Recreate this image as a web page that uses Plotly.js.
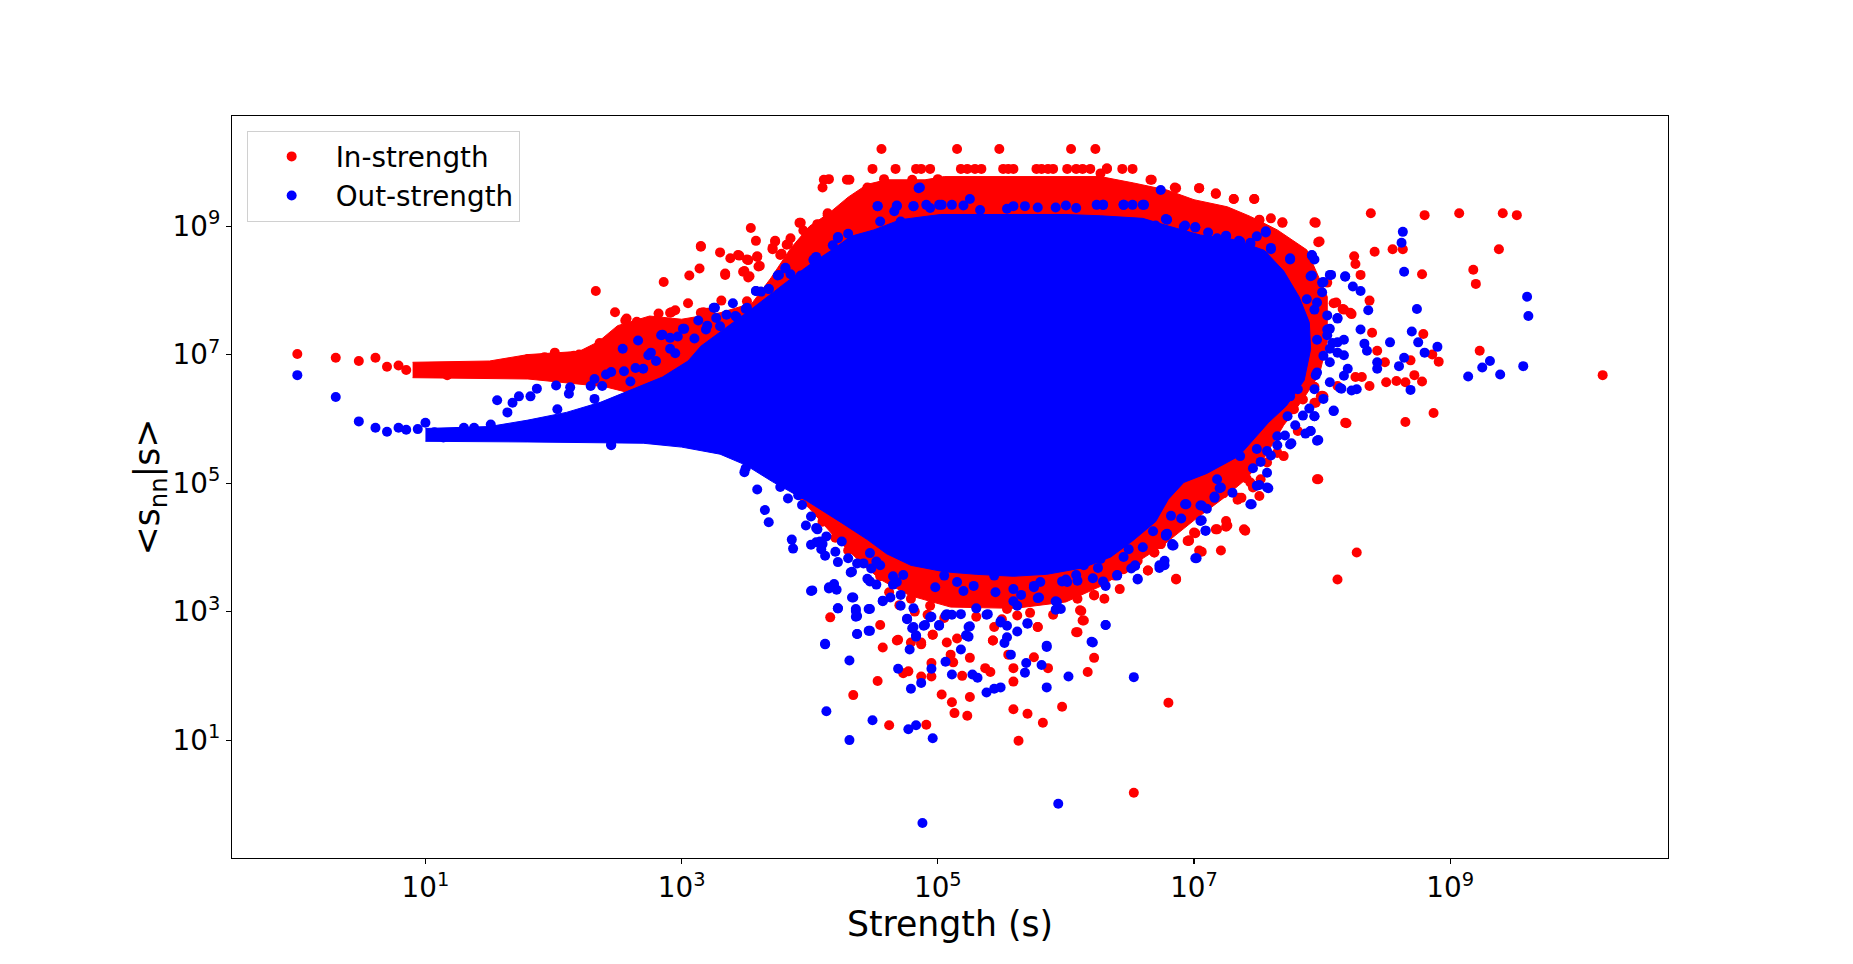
<!DOCTYPE html>
<html>
<head>
<meta charset="utf-8">
<script src="https://cdn.plot.ly/plotly-3.0.1.min.js"></script>
<style>html,body{margin:0;padding:0;background:#fff;}#chart{width:1853px;height:964px;}</style>
</head>
<body>
<div id="chart"></div>
<script>
// All values are log10 of the plotted quantity (strength s, <s_nn|s>).
const seriesNames = ["In-strength", "Out-strength"];

// Dense core of the In-strength cloud (outline of the solid red area), log10 values
const inCoreLogS   = [0.90,1.50,1.80,2.20,2.35,2.50,2.75,3.00,3.30,3.55,3.70,3.85,4.00,4.15,4.30,4.45,4.60,4.90,5.05,6.27,6.53,6.79,7.00,7.26,7.44,7.65,7.88,8.04,8.04,7.98,7.85,7.70,7.55,7.40,7.22,7.00,6.75,6.50,6.30,6.00,5.60,5.10,4.78,4.55,4.38,4.20,4.00,3.60,3.00,2.40,1.80,0.90];
const inCoreLogSnn = [6.88,6.90,7.00,7.05,7.20,7.45,7.60,7.55,7.65,7.80,8.20,8.65,9.00,9.20,9.45,9.65,9.72,9.72,9.77,9.77,9.67,9.56,9.41,9.30,9.15,8.94,8.63,7.90,7.20,6.70,6.30,5.90,5.40,5.05,4.75,4.42,4.02,3.70,3.42,3.15,3.05,3.07,3.25,3.50,3.80,4.15,4.60,5.35,6.20,6.50,6.62,6.64];

// Dense core of the Out-strength cloud (outline of the solid blue area), log10 values
const outCoreLogS   = [1.00,1.50,1.80,2.10,2.37,2.60,2.85,3.05,3.15,3.30,3.54,3.80,4.00,4.19,4.32,4.50,4.71,5.02,6.00,6.27,6.60,6.80,7.05,7.31,7.55,7.70,7.82,7.90,7.91,7.86,7.72,7.58,7.35,7.10,6.92,6.80,6.70,6.52,6.35,6.13,5.85,5.59,5.30,5.05,4.79,4.60,4.45,4.25,3.98,3.71,3.50,3.30,3.00,2.70,2.37,1.80,1.00];
const outCoreLogSnn = [5.85,5.88,5.98,6.10,6.26,6.45,6.65,6.90,7.13,7.35,7.70,8.10,8.40,8.65,8.84,8.94,9.10,9.18,9.18,9.16,9.12,9.00,8.86,8.79,8.62,8.30,7.90,7.50,7.08,6.60,6.20,5.94,5.42,5.15,5.01,4.75,4.40,4.10,3.85,3.68,3.58,3.55,3.58,3.62,3.72,3.90,4.12,4.38,4.72,5.02,5.28,5.45,5.56,5.62,5.63,5.64,5.65];

// Individually visible In-strength nodes (log10 s, log10 <s_nn|s>)
const inLogS = [
0.00,0.30,0.48,0.61,0.70,0.79,0.85,1.17,1.80,1.93,2.01,2.16,2.20,2.34,2.36,2.33,2.48,2.56,2.65,2.50,2.58,2.71,2.86,2.82,2.91,2.95,3.05,3.06,
2.57,2.66,2.74,2.92,3.14,3.15,3.17,3.23,3.30,3.31,3.34,3.38,3.44,3.48,3.52,3.52,3.54,3.58,3.59,3.61,3.71,3.73,3.78,3.83,3.86,3.92,3.92,3.95,3.96,3.98,4.06,4.10,4.14,4.15,4.28,4.31,4.36,4.44,4.45,4.49,4.53,4.56,4.57,4.58,4.67,4.68,4.79,4.80,4.83,4.87,4.94,5.00,5.15,5.18,5.23,5.29,5.34,5.48,5.51,5.55,5.59,5.77,5.81,5.86,5.90,6.01,6.04,6.08,6.13,6.19,6.23,6.32,6.44,6.52,
6.67,6.85,7.04,7.17,7.31,7.47,7.51,7.69,7.95,7.97,8.38,8.80,9.07,9.41,9.52,9.38,9.18,9.20,8.41,8.55,8.63,8.25,8.26,8.30,8.78,8.37,8.23,8.11,8.16,8.79,8.39,8.43,8.49,9.23,8.86,8.91,8.72,8.78,8.58,8.65,8.37,8.50,10.19,8.87,8.65,8.19,7.95,8.00,7.94,8.31,8.26,8.69,
7.97,8.27,8.12,6.80,6.53,6.86,7.21,7.06,6.69,6.64,6.45,6.51,6.74,6.96,7.01,7.17,7.25,7.40,7.25,6.93,7.37,7.34,7.23,7.51,7.46,7.41,
4.16,4.55,4.57,4.53,4.34,4.62,4.91,4.69,4.77,4.73,4.87,4.95,4.95,4.96,4.87,5.03,5.11,5.13,5.23,5.25,5.19,5.25,5.12,5.10,5.41,5.37,5.43,5.55,5.59,5.59,5.59,5.70,5.82,5.63,5.97,5.75,5.86,5.78,6.09,6.12,6.14,6.22,6.17,6.01,6.22,4.20,4.30,4.45,4.55,4.62,4.70,
4.92,5.05,5.30,5.50,5.72,5.90,6.30,6.42,4.82,4.10];
const inLogSnn = [
7.01,6.95,6.90,6.95,6.81,6.83,6.76,6.68,6.93,6.96,7.03,6.98,7.00,7.08,7.18,7.99,7.66,7.53,7.51,7.29,7.26,7.39,8.13,7.64,7.65,7.69,7.80,8.23,
7.56,7.48,7.40,7.66,8.34,8.69,7.66,7.61,8.59,7.84,8.26,8.50,8.55,8.29,8.47,8.20,8.97,8.77,8.53,8.38,8.64,8.77,8.57,8.72,8.51,8.55,9.05,8.93,8.45,8.77,9.03,9.60,9.17,9.73,9.17,9.72,9.43,9.47,9.60,9.89,9.29,10.20,9.60,9.73,9.89,9.60,9.60,9.72,9.89,9.89,9.89,9.73,10.20,9.89,9.89,9.89,9.89,10.20,9.89,9.89,9.89,9.89,9.89,9.89,9.89,9.89,10.20,9.89,9.89,9.89,10.20,9.89,9.89,9.89,
9.72,9.60,9.59,9.50,9.42,9.42,9.09,9.05,9.05,8.75,9.20,9.17,9.20,9.20,9.17,8.64,8.32,8.10,8.60,8.64,8.64,8.53,8.41,8.24,8.25,7.84,7.63,7.81,7.71,7.32,7.34,7.06,6.88,7.06,7.00,6.89,6.68,6.58,6.59,6.57,6.51,6.57,6.68,6.09,5.95,5.93,6.25,6.36,6.50,6.65,6.65,6.91,
5.06,3.92,3.50,1.58,0.18,3.50,3.95,3.93,3.92,3.64,3.66,3.83,4.05,4.11,4.22,4.28,4.32,4.26,4.41,4.45,4.77,4.74,4.84,4.80,4.93,5.07,
2.91,2.79,2.44,1.92,1.70,1.23,1.24,2.56,2.07,2.04,1.99,1.99,2.20,2.64,2.49,1.71,1.59,1.42,1.38,1.67,2.00,2.28,2.21,2.33,2.06,2.12,2.55,2.33,2.12,1.91,1.48,1.41,1.27,0.99,1.52,2.29,2.12,2.76,2.68,3.01,2.86,2.28,2.06,3.31,3.26,4.15,3.95,3.75,3.55,3.30,3.10,
2.95,2.90,2.92,2.88,2.98,2.95,3.20,3.35,3.00,4.40];

// More In-strength nodes along the edge of the cloud, as [log10 s, log10 <s_nn|s>]
const inEdgeNodes = [
[4.68,2.55],[4.79,2.52],[4.87,2.52],[4.96,2.64],[5.07,2.52],[5.15,2.58],[5.44,2.76],[5.43,2.55],[5.78,2.76],[5.80,3.20],
[6.09,3.20],[6.08,2.68],[6.13,2.86],[6.11,3.02],[6.22,3.25],[6.01,3.30],[6.38,3.56],[6.44,3.66],[6.64,3.64],[6.56,3.79],
[6.69,3.92],[6.74,4.05],[6.86,3.51],[6.96,4.10],[6.95,4.44],[7.04,3.95],[4.45,4.18],[4.35,4.08],[4.58,4.08],[4.71,3.61],
[4.79,3.20],[4.97,3.25],[5.10,3.46],[5.49,3.25],[5.54,3.04],[5.62,2.94],[4.94,3.09],
[8.18,5.94],[7.96,5.06],[7.94,6.25],[7.99,6.35],[7.85,6.30],[7.78,6.15],[7.81,5.81],[7.65,5.47],[7.70,5.42],[7.57,5.32],
[7.52,5.06],[7.44,5.01],[7.39,5.22],[7.35,4.77],[7.39,4.28],[7.26,4.34],[7.18,4.28],[7.00,4.23],[6.95,4.10],[6.92,4.39],
[7.13,4.91],[8.09,7.80],[8.17,7.70],[8.22,7.65],[8.12,6.51],[8.01,6.35],[8.04,8.12],
[3.15,8.68],[3.45,8.54],[3.51,8.48],[3.59,8.52],[3.60,8.37],[3.49,8.30],[3.53,8.22],[3.34,8.24],[3.73,8.76],[3.71,8.66],
[3.82,8.71],[3.85,8.81],[3.77,8.55],[3.85,8.48],[3.92,8.53],[3.93,9.05],[3.98,8.76],[4.06,9.02],[4.14,9.20],[4.16,8.89],
[4.14,8.76],[4.11,9.72],[4.29,9.72],[4.36,9.43],[4.55,9.62],[3.15,7.65],[3.20,7.65],[3.51,7.83],[3.95,8.32],[3.85,8.35],
[6.27,9.82],[6.32,9.90],[6.66,9.72],[6.86,9.59],[7.04,9.59],[7.17,9.51],[7.31,9.42],[7.47,9.42],[7.51,9.10],[7.60,9.12],
[7.69,9.06],[7.94,9.06],[7.98,8.76]];

// Individually visible Out-strength nodes (log10 s, log10 <s_nn|s>)
const outLogS = [
0.00,0.30,0.48,0.61,0.70,0.79,0.85,0.94,1.00,1.07,1.14,1.25,1.30,1.38,1.51,1.56,1.64,1.68,1.73,1.82,1.87,2.02,2.03,2.12,2.13,2.29,2.32,2.32,2.38,2.41,2.45,2.54,2.55,2.64,2.66,2.76,2.84,2.91,2.97,3.02,2.82,
2.45,2.74,2.85,2.91,3.01,3.13,3.26,3.43,3.50,3.58,3.68,3.75,3.81,3.93,3.98,4.03,4.14,4.22,4.36,4.53,4.68,4.81,4.86,4.91,5.03,5.11,5.20,5.25,5.33,5.54,5.59,5.68,5.78,5.92,6.00,6.08,6.24,6.29,6.45,6.52,2.81,3.08,3.50,3.55,2.45,
6.60,6.74,8.63,8.62,8.64,9.60,9.61,8.74,8.70,8.75,8.80,8.90,8.53,8.64,8.60,9.14,9.25,9.31,9.39,9.57,8.69,8.30,8.18,8.06,8.24,8.30,8.36,8.33,8.35,8.43,8.43,8.23,8.27,8.15,8.09,7.94,7.97,7.76,7.91,7.87,8.12,7.92,7.75,7.60,
6.53,6.56,6.73,6.77,7.02,6.84,7.09,7.06,6.78,6.54,6.49,6.94,7.06,7.45,7.16,7.20,7.58,7.51,
3.65,3.68,3.86,3.87,4.01,4.12,4.13,4.31,4.31,4.49,4.77,4.83,4.96,4.88,4.15,4.21,4.22,4.37,4.47,4.36,4.36,4.33,4.47,4.69,4.78,4.79,4.87,4.95,5.06,5.11,5.18,5.24,5.27,5.31,5.38,5.44,5.49,5.52,5.54,5.57,5.69,5.68,5.81,5.85,5.85,6.02,6.20,6.31,5.94,5.62,5.92,5.70,5.25,4.80,4.83,5.01,5.06,4.95,4.76,
4.81,4.90,5.11,5.30,5.38,5.49,5.59,5.65,5.78,5.92,5.97,6.08,6.21,6.29,6.40,6.51,
3.77,3.83,3.91,3.94,4.01,4.05,4.08,4.13,4.20,4.25,4.30,4.33,4.37,4.47,4.48,4.52,4.47,4.52,4.57,4.65,4.71,4.73,3.49,3.59,4.01,
8.01,7.92,8.00,7.96,8.04,8.06,8.04,8.12,8.06,8.17,8.20,8.06,7.95,8.06,8.01,7.90,7.85,7.79,7.71,7.65,7.60,7.52,7.46,
7.25,7.35,7.44,7.56,6.78,6.93,7.01,7.11,6.70,
2.60,2.70,2.80,2.95,3.10,3.20,3.35,3.40,3.62,3.85,4.05,4.18,4.30,
6.60,6.68,6.90,7.10,7.30,6.45,6.25,6.00,5.75,5.45,5.20,4.98,4.65,4.42,4.10];
const outLogSnn = [
6.68,6.34,5.96,5.86,5.80,5.86,5.83,5.84,5.94,5.79,5.71,5.79,5.86,5.86,5.91,6.29,6.10,6.25,6.35,6.35,6.47,6.52,6.15,6.39,6.49,6.51,6.31,6.62,6.51,6.69,5.59,7.09,6.74,6.79,7.22,7.03,7.30,7.26,7.28,7.40,5.67,
6.73,6.99,7.31,7.09,7.40,7.53,7.73,7.58,7.71,7.99,8.02,8.23,8.34,8.23,8.28,8.47,8.44,8.83,8.77,9.31,9.32,9.31,9.60,9.33,9.33,9.33,9.32,9.42,9.25,9.27,9.31,9.31,9.29,9.29,9.32,9.28,9.33,9.33,9.33,9.33,5.67,5.61,5.23,5.43,5.60,
9.33,9.56,8.91,8.74,8.29,7.90,7.60,7.71,7.36,7.19,7.03,7.12,7.19,6.95,6.82,6.66,6.80,6.90,6.69,6.82,6.45,7.39,8.21,8.24,8.06,7.99,7.69,7.17,7.06,6.88,6.78,6.44,6.46,6.47,6.13,6.04,5.67,5.62,5.81,5.77,7.56,8.54,8.48,8.64,
1.98,3.50,3.68,3.79,3.83,4.03,4.26,4.42,4.20,3.71,3.97,4.67,4.65,4.67,4.79,4.92,4.92,4.97,
4.58,4.39,4.12,3.98,3.32,2.49,1.45,1.00,2.24,1.31,1.17,1.23,1.03,-0.29,3.36,3.34,3.05,2.65,2.70,3.01,2.92,3.22,3.04,2.11,2.41,1.80,1.89,2.11,2.22,2.02,2.41,2.61,2.02,1.97,1.74,1.80,1.82,2.51,2.60,2.33,2.20,2.05,2.17,1.82,2.45,1.99,2.53,2.79,0.01,2.69,3.03,2.82,2.77,2.74,2.61,2.79,2.94,2.92,2.88,
3.05,2.79,2.95,3.05,2.95,2.85,3.16,3.26,3.21,3.16,3.47,3.57,3.52,3.47,3.57,3.67,
4.94,4.76,4.81,4.66,4.48,4.30,4.09,4.17,3.93,4.09,3.83,3.62,3.75,3.91,3.67,3.78,3.47,3.42,3.16,3.42,3.26,3.57,5.17,4.90,4.04,
8.13,8.23,7.97,7.81,7.61,7.40,7.30,7.19,7.09,6.99,6.78,6.88,6.68,6.57,6.31,6.16,6.05,5.90,5.74,5.59,5.43,5.33,5.23,
8.85,8.77,8.72,8.90,9.11,9.01,8.98,8.90,9.01,
6.58,6.78,6.90,7.02,7.25,7.45,7.62,7.80,7.98,8.25,8.52,8.70,8.88,
4.00,4.25,4.45,4.60,4.85,3.85,3.68,3.50,3.38,3.30,3.32,3.38,3.55,3.75,4.05];

// More Out-strength nodes along the edge of the cloud, as [log10 s, log10 <s_nn|s>]
const outEdgeNodes = [
[4.02,3.33],[4.15,3.38],[4.19,3.43],[4.22,3.05],[4.34,3.22],[4.36,3.04],[4.37,2.93],[4.46,3.04],[4.37,2.65],[4.46,2.70],
[4.12,2.50],[4.57,3.17],[4.63,3.22],[4.71,3.09],[4.76,2.89],[4.81,2.76],[4.83,2.63],[4.89,2.78],[4.94,2.91],[5.01,2.78],
[5.07,2.96],[5.18,2.96],[5.24,2.76],[5.22,2.63],[5.39,2.96],[5.49,2.83],[5.54,2.78],[5.62,3.09],[5.70,2.81],[5.79,3.22],
[5.85,2.47],[5.93,3.15],[5.96,3.04],[6.09,3.48],[6.21,2.52],[6.31,2.79],[6.31,3.40],[6.40,3.56],[6.56,3.51],[6.54,3.72],
[6.77,3.72],[6.73,3.72],[7.01,3.83],[6.83,4.03],[6.79,4.21],[6.93,4.67],[4.09,3.97],[4.12,3.87],[4.22,3.77],[4.32,3.61],
[4.45,3.51],[4.55,3.72],[4.68,3.46],[5.05,3.56],[5.15,3.46],[5.28,3.40],[5.44,3.56],[5.59,3.35],[5.75,3.40],[5.80,3.46],
[6.01,3.46],[6.14,3.72],[6.27,3.82],[4.05,4.08],[3.97,4.34],[4.06,4.28],
[7.94,8.48],[7.91,8.22],[8.07,8.24],[8.18,8.22],[8.00,8.12],[7.88,7.86],[7.94,7.70],[8.12,7.57],[8.04,7.39],[7.96,7.23],
[8.08,7.18],[8.17,7.23],[8.12,7.03],[8.01,6.98],[7.96,6.72],[8.17,6.67],[8.14,6.48],[7.94,6.46],[7.81,6.46],[7.75,6.35],
[7.73,6.04],[7.94,6.04],[8.09,6.12],[7.91,5.81],[7.96,5.66],[7.75,5.60],[7.65,5.73],[7.57,5.50],[7.57,5.16],[7.57,4.93],
[7.49,4.96],[7.44,4.67],[7.21,4.93],[7.16,4.77],[7.05,4.65],[7.05,4.41],[7.09,4.26],[6.82,4.49],[6.78,4.18],[6.83,4.05],
[6.84,5.06],[7.18,5.06],[7.36,5.42],[7.49,5.53],
[3.25,7.73],[3.27,7.57],[3.42,7.60],[3.51,7.73],[3.58,7.99],[3.68,8.02],[3.76,8.24],[3.81,8.35],[3.93,8.22],[4.03,8.48],
[4.15,8.43],[4.22,8.81],[4.37,8.74],[4.53,9.31],[4.68,9.31],[4.66,9.23],[4.55,9.07],[4.71,9.07],[4.81,9.31],[4.85,9.59],
[4.94,9.28],[5.01,9.33],[3.30,7.44],[3.19,7.39],[3.41,7.26],[3.49,7.05],
[6.29,9.33],[6.45,9.33],[6.61,9.33],[6.79,9.10],[6.92,8.99],[7.01,8.98],[7.18,8.81],[7.25,8.84],[7.36,8.76],[7.44,8.74],
[7.49,8.84],[7.56,8.92],[7.60,8.66],[7.75,8.50],[7.92,8.55]];

// Axis tick values and labels
const xTickExponents = [1, 3, 5, 7, 9];
const yTickExponents = [1, 3, 5, 7, 9];

const pow10 = a => a.map(v => Math.pow(10, v));
const inAllS   = inLogS.concat(inEdgeNodes.map(p => p[0]));
const inAllSnn = inLogSnn.concat(inEdgeNodes.map(p => p[1]));
const outAllS   = outLogS.concat(outEdgeNodes.map(p => p[0]));
const outAllSnn = outLogSnn.concat(outEdgeNodes.map(p => p[1]));

const RED = '#ff0000', BLUE = '#0000ff';
const MS = 10;

const traces = [
  {x: pow10(inCoreLogS), y: pow10(inCoreLogSnn), type: 'scatter', mode: 'lines', fill: 'toself',
   fillcolor: RED, line: {color: RED, width: 1}, showlegend: false, hoverinfo: 'skip'},
  {x: pow10(inAllS), y: pow10(inAllSnn), type: 'scatter', mode: 'markers', name: seriesNames[0],
   marker: {color: RED, size: MS, line: {width: 0}}},
  {x: pow10(outCoreLogS), y: pow10(outCoreLogSnn), type: 'scatter', mode: 'lines', fill: 'toself',
   fillcolor: BLUE, line: {color: BLUE, width: 1}, showlegend: false, hoverinfo: 'skip'},
  {x: pow10(outAllS), y: pow10(outAllSnn), type: 'scatter', mode: 'markers', name: seriesNames[1],
   marker: {color: BLUE, size: MS, line: {width: 0}}}
];

const FONT = 'DejaVu Sans, sans-serif';
const layout = {
  width: 1853, height: 964,
  margin: {l: 232, r: 185, t: 116, b: 106, pad: 0},
  paper_bgcolor: '#ffffff', plot_bgcolor: '#ffffff',
  font: {family: FONT, color: '#000000', size: 28},
  showlegend: true,
  legend: {x: 0.0102, y: 0.980, xanchor: 'left', yanchor: 'top',
    bgcolor: 'rgba(255,255,255,0.8)', bordercolor: '#d0d0d0', borderwidth: 1,
    font: {family: FONT, size: 27.8, color: '#000000'}, itemwidth: 78, tracegroupgap: 0},
  xaxis: {
    type: 'log', range: [-0.51, 10.70], showgrid: false, zeroline: false,
    showline: true, linecolor: '#000000', linewidth: 1.1, mirror: true,
    ticks: 'outside', ticklen: 5, tickwidth: 1.1, tickcolor: '#000000',
    tickvals: xTickExponents.map(e => Math.pow(10, e)),
    ticktext: xTickExponents.map(e => '10<sup>' + e + '</sup>'),
    tickfont: {family: FONT, size: 27.8},
    title: {text: 'Strength (s)', font: {family: FONT, size: 34.7}, standoff: 0}
  },
  yaxis: {
    type: 'log', range: [-0.835, 10.713], showgrid: false, zeroline: false,
    showline: true, linecolor: '#000000', linewidth: 1.1, mirror: true,
    ticks: 'outside', ticklen: 5, tickwidth: 1.1, tickcolor: '#000000',
    tickvals: yTickExponents.map(e => Math.pow(10, e)),
    ticktext: yTickExponents.map(e => '10<sup>' + e + '</sup>'),
    tickfont: {family: FONT, size: 27.8},
    title: {text: '&lt;s<sub>nn</sub>|s&gt;', font: {family: FONT, size: 34.7}, standoff: 1}
  }
};

Plotly.newPlot('chart', traces, layout, {displayModeBar: false, staticPlot: true});
</script>
</body>
</html>
